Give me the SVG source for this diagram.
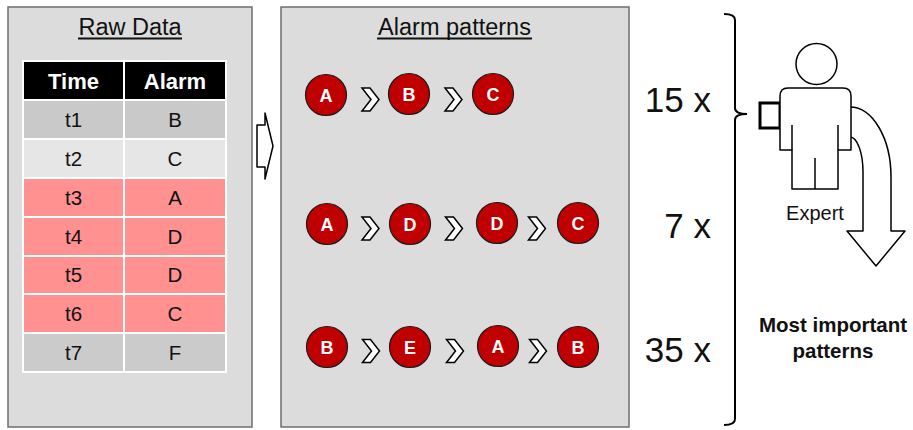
<svg xmlns="http://www.w3.org/2000/svg" xmlns:xlink="http://www.w3.org/1999/xlink" width="913" height="430" viewBox="0 0 913 430">
  <style>
    .panel { fill: #dcdcdc; stroke: #6e6e6e; stroke-width: 1.5; }
    .title { font-family: "Liberation Sans", Arial, sans-serif; font-size: 23.5px; fill: #111; text-anchor: middle; }
    .uline { stroke: #111; stroke-width: 2; }
    .cell { stroke: #ffffff; stroke-width: 2; }
    .th { font-family: "Liberation Sans", Arial, sans-serif; font-size: 22px; font-weight: bold; fill: #ffffff; text-anchor: middle; }
    .td { font-family: "Liberation Sans", Arial, sans-serif; font-size: 20.5px; fill: #111; text-anchor: middle; }
    .alarm { fill: #c00000; stroke: #1a1a1a; stroke-width: 1.2; }
    .alabel { font-family: "Liberation Sans", Arial, sans-serif; font-size: 18px; font-weight: bold; fill: #ffffff; text-anchor: middle; }
    .chev { fill: #ffffff; stroke: #000; stroke-width: 1.5; stroke-linejoin: miter; }
    .count { font-family: "Liberation Sans", Arial, sans-serif; font-size: 35px; fill: #111; text-anchor: end; }
    .outline { fill: #ffffff; stroke: #000; stroke-width: 1.5; stroke-linejoin: round; }
    .label { font-family: "Liberation Sans", Arial, sans-serif; font-size: 20px; fill: #111; text-anchor: middle; }
    .bold { font-weight: bold; font-size: 20.5px; }
  </style>
  <defs>
    <polygon id="chevron" class="chev" points="-8.5,-11.5 -0.5,-11.5 8.5,0 -0.5,11.5 -8.5,11.5 0.5,0"/>
  </defs>

  <rect width="913" height="430" fill="#ffffff"/>

  <!-- Raw data panel with table -->
  <g id="raw-data">
    <rect class="panel" x="8" y="7" width="244" height="420"/>
    <text class="title" x="130" y="35">Raw Data</text>
    <line class="uline" x1="78" y1="38.5" x2="182" y2="38.5"/>
    <g id="table">
      <rect class="cell" x="23" y="61" width="101" height="39" fill="#000000"/>
      <rect class="cell" x="124" y="61" width="102" height="39" fill="#000000"/>
      <text class="th" x="73.5" y="89">Time</text>
      <text class="th" x="175" y="89">Alarm</text>

      <rect class="cell" x="23" y="100" width="101" height="39" fill="#c9c9c9"/>
      <rect class="cell" x="124" y="100" width="102" height="39" fill="#c9c9c9"/>
      <text class="td" x="73.5" y="127">t1</text><text class="td" x="175" y="127">B</text>

      <rect class="cell" x="23" y="139" width="101" height="39" fill="#e6e6e6"/>
      <rect class="cell" x="124" y="139" width="102" height="39" fill="#e6e6e6"/>
      <text class="td" x="73.5" y="166">t2</text><text class="td" x="175" y="166">C</text>

      <rect class="cell" x="23" y="178" width="101" height="39" fill="#ff9191"/>
      <rect class="cell" x="124" y="178" width="102" height="39" fill="#ff9191"/>
      <text class="td" x="73.5" y="205">t3</text><text class="td" x="175" y="205">A</text>

      <rect class="cell" x="23" y="217" width="101" height="39" fill="#ff9191"/>
      <rect class="cell" x="124" y="217" width="102" height="39" fill="#ff9191"/>
      <text class="td" x="73.5" y="244">t4</text><text class="td" x="175" y="244">D</text>

      <rect class="cell" x="23" y="256" width="101" height="38" fill="#ff9191"/>
      <rect class="cell" x="124" y="256" width="102" height="38" fill="#ff9191"/>
      <text class="td" x="73.5" y="282">t5</text><text class="td" x="175" y="282">D</text>

      <rect class="cell" x="23" y="294" width="101" height="39" fill="#ff9191"/>
      <rect class="cell" x="124" y="294" width="102" height="39" fill="#ff9191"/>
      <text class="td" x="73.5" y="321">t6</text><text class="td" x="175" y="321">C</text>

      <rect class="cell" x="23" y="333" width="101" height="39" fill="#cbcbcb"/>
      <rect class="cell" x="124" y="333" width="102" height="39" fill="#cbcbcb"/>
      <text class="td" x="73.5" y="360">t7</text><text class="td" x="175" y="360">F</text>
    </g>
  </g>

  <!-- Alarm patterns panel -->
  <g id="alarm-patterns">
    <rect class="panel" x="281" y="7" width="348" height="420"/>
    <text class="title" x="454.5" y="35">Alarm patterns</text>
    <line class="uline" x1="377" y1="38.5" x2="532" y2="38.5"/>

    <g id="pattern-1">
      <circle class="alarm" cx="326" cy="95" r="20.5"/><text class="alabel" x="326" y="101.5">A</text>
      <circle class="alarm" cx="409" cy="94" r="20.5"/><text class="alabel" x="409" y="100.5">B</text>
      <circle class="alarm" cx="493" cy="94" r="20.5"/><text class="alabel" x="493" y="100.5">C</text>
    </g>
    <g id="pattern-2">
      <circle class="alarm" cx="327" cy="224" r="20.5"/><text class="alabel" x="327" y="230.5">A</text>
      <circle class="alarm" cx="410" cy="224" r="20.5"/><text class="alabel" x="410" y="230.5">D</text>
      <circle class="alarm" cx="497" cy="223" r="20.5"/><text class="alabel" x="497" y="229.5">D</text>
      <circle class="alarm" cx="578" cy="223" r="20.5"/><text class="alabel" x="578" y="229.5">C</text>
    </g>
    <g id="pattern-3">
      <circle class="alarm" cx="327" cy="347" r="20.5"/><text class="alabel" x="327" y="353.5">B</text>
      <circle class="alarm" cx="410" cy="347" r="20.5"/><text class="alabel" x="410" y="353.5">E</text>
      <circle class="alarm" cx="498" cy="346" r="20.5"/><text class="alabel" x="498" y="352.5">A</text>
      <circle class="alarm" cx="578" cy="347" r="20.5"/><text class="alabel" x="578" y="353.5">B</text>
    </g>
  </g>

  <!-- Occurrence counts -->
  <g id="counts">
    <text class="count" x="711" y="112">15 x</text>
    <text class="count" x="711" y="238">7 x</text>
    <text class="count" x="711" y="362">35 x</text>
  </g>

  <!-- Expert figure -->
  <g id="expert">
    <path class="outline" stroke-width="2" d="M850,107 A41,70 0 0 1 891,177 L891,231 L905,231 L876,266 L847,231 L863,231 L863,172 A13,35 0 0 0 850,137 Z"/>
    <rect x="760" y="103" width="20" height="25" fill="#ffffff" stroke="#000" stroke-width="3"/>
    <circle class="outline" cx="816.5" cy="64" r="20.5"/>
    <path class="outline" d="M780,150 L780,96 Q780,88 788,88 L843,88 Q851,88 851,96 L851,150 L838,150 L838,189 L792,189 L792,150 Z"/>
    <line x1="792" y1="125" x2="792" y2="150" stroke="#000" stroke-width="1.5"/>
    <line x1="838" y1="125" x2="838" y2="150" stroke="#000" stroke-width="1.5"/>
    <line x1="815" y1="158" x2="815" y2="189" stroke="#000" stroke-width="1.5"/>
    <text class="label" x="815" y="220">Expert</text>
  </g>

  <g id="result">
    <text class="label bold" x="833" y="332">Most important</text>
    <text class="label bold" x="833" y="358">patterns</text>
  </g>

  <!-- Connectors: block arrow, sequence chevrons, bracket -->
  <g id="connectors">
    <polygon class="outline" points="257,125 265,125 265,113 273,146 265,179 265,167 257,167"/>

    <use xlink:href="#chevron" x="370.5" y="99.5"/>
    <use xlink:href="#chevron" x="453.5" y="99.5"/>

    <use xlink:href="#chevron" x="370.5" y="228.5"/>
    <use xlink:href="#chevron" x="454" y="228.5"/>
    <use xlink:href="#chevron" x="537" y="228.5"/>

    <use xlink:href="#chevron" x="371" y="351"/>
    <use xlink:href="#chevron" x="455" y="351"/>
    <use xlink:href="#chevron" x="538" y="351"/>

    <path d="M724,14 Q735,14 735,20 L735,108 Q735,114 747,114 Q735,114 735,120 L735,419 Q735,425 724,425" fill="none" stroke="#000" stroke-width="2"/>
  </g>
</svg>
